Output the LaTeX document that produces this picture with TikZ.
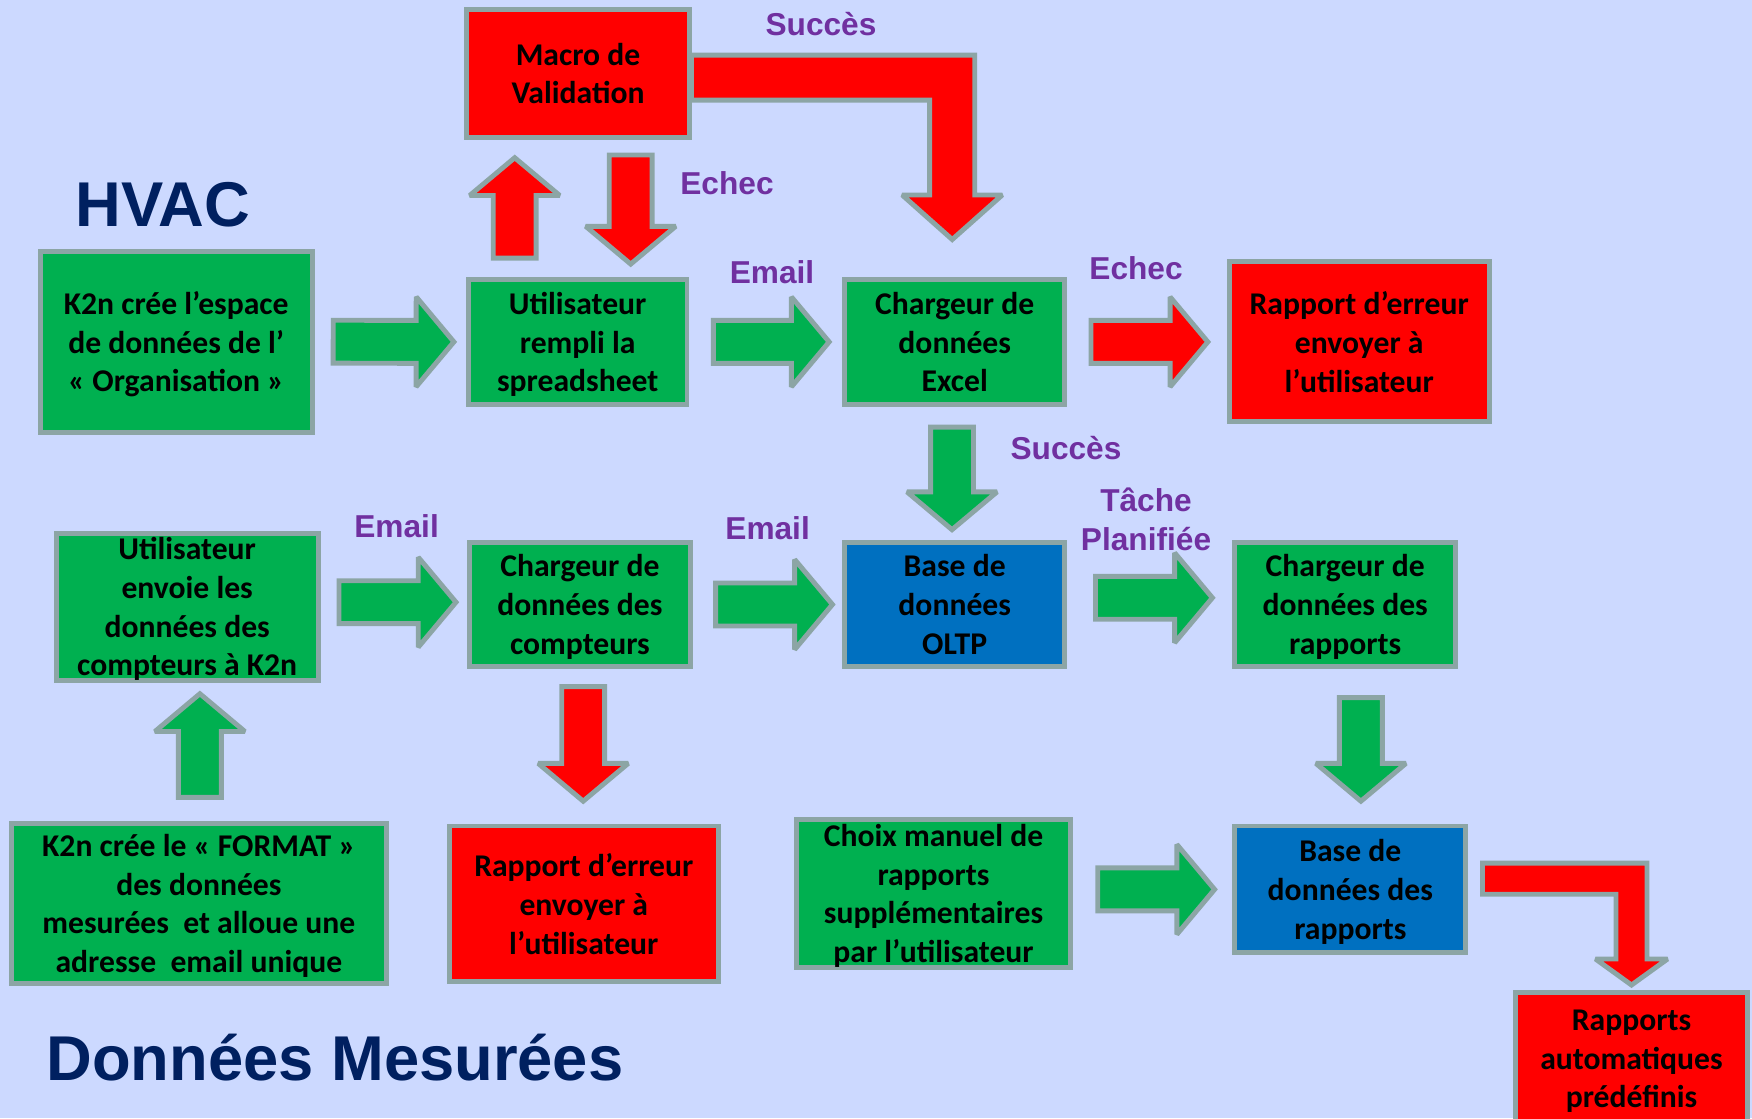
\documentclass[tikz,border=0pt]{standalone}
\usepackage{fontspec}
\usetikzlibrary{calc,shapes.arrows}
\newfontfamily\boitefont{Carlito}
\newfontfamily\etiqfont{Liberation Sans}
\definecolor{fond}{RGB}{204,217,255}
\definecolor{bordure}{RGB}{140,165,165}
\definecolor{vert}{RGB}{0,176,80}
\definecolor{rouge}{RGB}{255,0,0}
\definecolor{bleu}{RGB}{0,112,192}
\definecolor{violet}{RGB}{112,48,160}
\definecolor{marine}{RGB}{0,32,96}
% fleche droite : nom, couleur, depart, pointe
\newcommand{\fleche}[4]{%
  \path let \p1=#3, \p2=#4, \n1={atan2(\y2-\y1,\x2-\x1)}, \n2={veclen(\x2-\x1,\y2-\y1)} in
    node[flechebloc, fill=#2, rotate=\n1, minimum height=\n2, anchor=tail] (#1) at (\p1) {};}
% fleche coudee : couleur, depart, pointe, demi-largeur, demi-tete, longueur tete
\newcommand{\coude}[6]{%
  \filldraw[flechecoude, fill=#1] let \p1=#2, \p2=#3 in
    (\x1,{\y1+#4}) -- ({\x2+#4},{\y1+#4}) -- ({\x2+#4},{\y2+#6}) -- ({\x2+#5},{\y2+#6})
    -- (\x2,\y2) -- ({\x2-#5},{\y2+#6}) -- ({\x2-#4},{\y2+#6}) -- ({\x2-#4},{\y1-#4})
    -- (\x1,{\y1-#4}) -- cycle;}

\begin{document}
\begin{tikzpicture}[x=0.01cm, y=-0.01cm,
  boite/.style={draw=bordure, line width=1.4pt, align=center, inner sep=0pt, text depth=-0.2pt,
    font=\boitefont\bfseries\fontsize{9}{11}\selectfont},
  flechebloc/.style={single arrow, draw=bordure, line width=1.4pt, miter limit=2, inner sep=0pt,
    inner ysep=0.19cm, single arrow head extend=0.235cm, single arrow tip angle=100},
  flechecoude/.style={draw=bordure, line width=1.4pt, miter limit=2},
  etiq/.style={text=violet, align=center, font=\etiqfont\bfseries\fontsize{9}{11}\selectfont},
  titre/.style={text=marine, font=\etiqfont\bfseries\fontsize{18}{22}\selectfont}]
\fill[fond] (0,0) rectangle (1752,1118);
\useasboundingbox (0,0) rectangle (1752,1118);

% titres
\node[titre] (hvac) at (163,205) {HVAC};
\node[titre] (mesures) at (335,1058) {Données Mesurées};

% HVAC
\node[boite, fill=vert, minimum width=2.72cm, minimum height=1.81cm] (k2nesp) at (176.2,341.7)
  {K2n crée l’espace\\de données de l’\\« Organisation »};
\node[boite, fill=vert, minimum width=2.185cm, minimum height=1.246cm] (util) at (577.7,341.9)
  {Utilisateur\\rempli la\\spreadsheet};
\node[boite, fill=vert, minimum width=2.196cm, minimum height=1.246cm] (excel) at (954.7,341.9)
  {Chargeur de\\données\\Excel};
\node[boite, fill=rouge, minimum width=2.6cm, minimum height=1.6cm] (errhaut) at (1359.2,341.9)
  {Rapport d’erreur\\envoyer à\\l’utilisateur};
\node[boite, fill=rouge, minimum width=2.22cm, minimum height=1.28cm] (macro) at (578,73.5)
  {Macro de\\Validation};

% donnees mesurees
\node[boite, fill=vert, minimum width=2.62cm, minimum height=1.47cm] (envoie) at (187.2,606.7)
  {Utilisateur\\envoie les\\données des\\compteurs à K2n};
\node[boite, fill=vert, minimum width=2.207cm, minimum height=1.246cm] (compt) at (579.9,604.5)
  {Chargeur de\\données des\\compteurs};
\node[boite, fill=bleu, minimum width=2.196cm, minimum height=1.246cm] (oltp) at (954.7,604.5)
  {Base de\\données\\OLTP};
\node[boite, fill=vert, minimum width=2.207cm, minimum height=1.246cm] (chrapp) at (1345.2,604.5)
  {Chargeur de\\données des\\rapports};
\node[boite, fill=vert, minimum width=3.75cm, minimum height=1.593cm] (format) at (198.9,903.4)
  {K2n crée le « FORMAT »\\des données\\mesurées\ \ et alloue une\\adresse\ \ email unique};
\node[boite, fill=rouge, minimum width=2.688cm, minimum height=1.558cm] (errbas) at (583.8,903.9)
  {Rapport d’erreur\\envoyer à\\l’utilisateur};
\node[boite, fill=vert, minimum width=2.73cm, minimum height=1.48cm] (choix) at (933.5,893.3)
  {Choix manuel de\\rapports\\supplémentaires\\par l’utilisateur};
\node[boite, fill=bleu, minimum width=2.307cm, minimum height=1.268cm] (basrapp) at (1350.3,889.4)
  {Base de\\données des\\rapports};
\node[boite, fill=rouge, minimum width=2.32cm, minimum height=1.33cm] (auto) at (1631.5,1059)
  {Rapports\\automatiques\\prédéfinis};

% fleches
\fleche{f1}{vert}{($(k2nesp.east)+(16,0)$)}{($(util.west)+(-14.5,0)$)}
\fleche{f2}{vert}{($(util.east)+(21.5,0)$)}{($(excel.west)+(-15.7,0)$)}
\fleche{f3}{rouge}{($(excel.east)+(21.5,0)$)}{($(errhaut.west)+(-21.3,0)$)}
\fleche{f4}{rouge}{($(util.north)+(-63,-16.6)$)}{($(util.north |- macro.south)+(-63,20.2)$)}
\fleche{f5}{rouge}{($(util.north |- macro.south)+(53,12.5)$)}{($(util.north)+(53,-15.5)$)}
\fleche{f7}{vert}{($(excel.south)+(-2.7,18)$)}{($(excel.south |- oltp.north)+(-2.7,-12.5)$)}
\fleche{f8}{vert}{($(envoie.east |- compt.west)+(15.8,-2.3)$)}{($(compt.west)+(-13.5,-2.3)$)}
\fleche{f9}{vert}{($(compt.east)+(20.4,0)$)}{($(oltp.west)+(-12.4,0)$)}
\fleche{f10}{vert}{($(oltp.east)+(26,-6.7)$)}{($(chrapp.west)+(-22.4,-6.7)$)}
\fleche{f11}{rouge}{($(compt.south)+(3.3,14.8)$)}{($(compt.south |- errbas.north)+(3.3,-24.8)$)}
\fleche{f12}{vert}{($(format.north)+(1,-21.5)$)}{($(format.north |- envoie.south)+(1,13.5)$)}
\fleche{f13}{vert}{($(chrapp.south)+(15.7,25.9)$)}{($(chrapp.south |- basrapp.north)+(15.7,-24.8)$)}
\fleche{f14}{vert}{($(choix.east |- basrapp.west)+(22.7,0)$)}{($(basrapp.west)+(-20.3,0)$)}
\coude{rouge}{($(macro.east)+(0,4.2)$)}{($(excel.north)+(-2.5,-37.6)$)}{6.4pt}{14.23pt}{12.66pt}
\coude{rouge}{($(basrapp.east)+(14.3,-10.7)$)}{($(auto.north)+(0,-5)$)}{4.41pt}{10.24pt}{7.4pt}

% etiquettes
\node[etiq] (succes1) at (821,24) {Succès};
\node[etiq] (echec1) at (727,183) {Echec};
\node[etiq] (email1) at (772,272.6) {Email};
\node[etiq] (echec2) at (1136,268) {Echec};
\node[etiq] (succes2) at (1066,448) {Succès};
\node[etiq] (email2) at (396.6,526) {Email};
\node[etiq] (email3) at (767.6,528.5) {Email};
\node[etiq] (tache) at (1146,519.5) {Tâche\\Planifiée};
\end{tikzpicture}
\end{document}
